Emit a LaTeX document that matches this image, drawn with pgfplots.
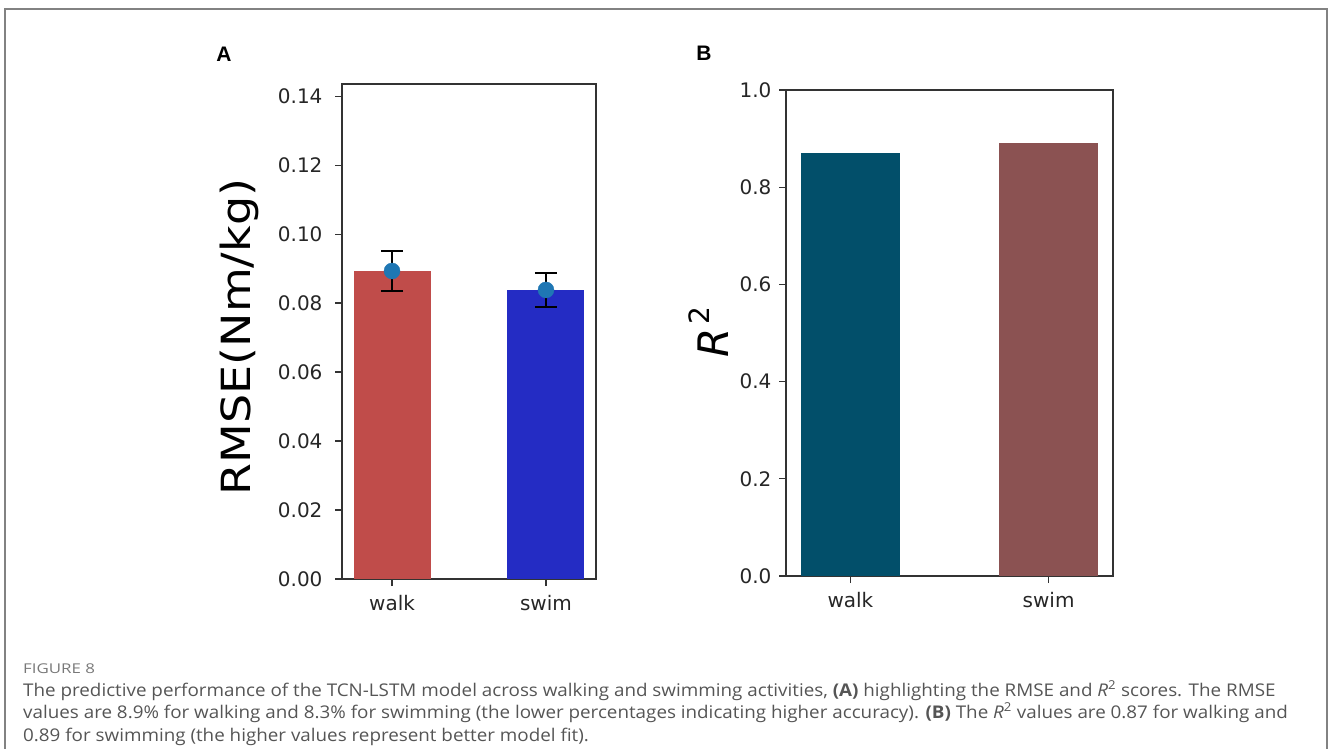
\documentclass[border=0pt]{standalone}
\usepackage{fontspec}
\setmainfont{Open Sans}
\newfontfamily\dejavu{DejaVu Sans}
\newfontfamily\arial{Liberation Sans}
\usepackage{pgfplots}
\pgfplotsset{compat=1.18}
\definecolor{walkred}{RGB}{192,76,74}
\definecolor{swimblue}{RGB}{36,44,196}
\definecolor{dotblue}{RGB}{31,119,180}
\definecolor{walkteal}{RGB}{2,79,106}
\definecolor{swimbrown}{RGB}{139,82,82}
\definecolor{framegray}{RGB}{130,130,130}
\definecolor{captext}{RGB}{85,85,85}
\definecolor{figgray}{RGB}{120,120,120}
\pgfplotsset{
  mystyle/.style={
    scale only axis,
    anchor=south west,
    xmin=-0.325, xmax=1.325,
    xtick={0,1}, xticklabels={walk,swim},
    tick align=outside, tick pos=left,
    major tick length=7pt,
    axis line style={line width=1.1pt, black!80},
    every tick/.style={line width=1.1pt, black!80},
    ticklabel style={font=\dejavu\fontsize{20}{24}\selectfont, text=black!85},
    /pgf/number format/assume math mode=true,
    /pgf/number format/fixed, /pgf/number format/fixed zerofill,
    xticklabel style={yshift=-6pt},
  }
}
\newcommand\capfont{\fontsize{17.5}{20}\selectfont}
\begin{document}
\begin{tikzpicture}
\path[use as bounding box] (0,0) rectangle (1328pt,748pt);
\draw[framegray, line width=1.5pt] (5pt,-10pt) -- (5pt,739pt) -- (1327pt,739pt) -- (1327pt,-10pt);

% Panel A
\begin{axis}[mystyle,
  at={(342pt,169pt)}, width=254pt, height=495pt,
  ymin=0, ymax=0.1435,
  ytick={0,0.02,0.04,0.06,0.08,0.10,0.12,0.14},
  yticklabel style={xshift=-9pt},
  /pgf/number format/precision=2,
]
\addplot[ybar, bar width=0.5, bar shift=0pt, fill=walkred, draw=none] coordinates {(0,0.0893)};
\addplot[ybar, bar width=0.5, bar shift=0pt, fill=swimblue, draw=none] coordinates {(1,0.0838)};
\addplot[only marks, mark=none, forget plot,
  error bars/.cd, y dir=both, y explicit,
  error bar style={black, line width=1.6pt},
  error mark options={rotate=90, mark size=11pt, black, line width=1.6pt}]
  coordinates {(0,0.0893) +- (0,0.0058) (1,0.0838) +- (0,0.0049)};
\addplot[only marks, mark=*, mark size=8pt, color=dotblue] coordinates {(0,0.0893) (1,0.0838)};
\end{axis}
\node[rotate=90, inner sep=0pt] at (239pt,411pt) {\scalebox{1.18}[1.03]{\dejavu\fontsize{39}{44}\selectfont RMSE(Nm/kg)}};
\node[inner sep=0pt] at (224pt,694pt) {\arial\bfseries\fontsize{21}{24}\selectfont A};

% Panel B
\begin{axis}[mystyle,
  at={(786pt,172pt)}, width=327pt, height=486pt,
  ymin=0, ymax=1,
  ytick={0,0.2,0.4,0.6,0.8,1.0},
  yticklabel style={xshift=-4pt},
  /pgf/number format/precision=1,
]
\addplot[ybar, bar width=0.5, bar shift=0pt, fill=walkteal, draw=none] coordinates {(0,0.870)};
\addplot[ybar, bar width=0.5, bar shift=0pt, fill=swimbrown, draw=none] coordinates {(1,0.891)};
\end{axis}
\node[rotate=90, inner sep=0pt] at (709pt,416pt) {\dejavu\fontsize{42}{46}\selectfont\itshape R\upshape\hspace{4pt}\raisebox{0.45em}{\fontsize{28}{30}\selectfont 2}};
\node[inner sep=0pt] at (704pt,695pt) {\arial\bfseries\fontsize{21}{24}\selectfont B};

% Caption
\begin{scope}[every node/.style={anchor=base west, inner sep=0pt}]
\node[text=figgray] at (23pt,75pt) {\scalebox{1.25}[1]{\fontsize{13.5}{15}\selectfont FIGURE 8}};
\node[text=captext] at (23pt,52pt) {\scalebox{1.075}[1]{\capfont The predictive performance of the TCN-LSTM model across walking and swimming activities, \textbf{(A)} highlighting the RMSE and \textit{R}\textsuperscript{2} scores. The RMSE}};
\node[text=captext] at (23pt,30pt) {\scalebox{1.075}[1]{\capfont values are 8.9\% for walking and 8.3\% for swimming (the lower percentages indicating higher accuracy). \textbf{(B)} The \textit{R}\textsuperscript{2} values are 0.87 for walking and}};
\node[text=captext] at (23pt,7pt) {\scalebox{1.075}[1]{\capfont 0.89 for swimming (the higher values represent better model fit).}};
\end{scope}
\end{tikzpicture}
\end{document}
